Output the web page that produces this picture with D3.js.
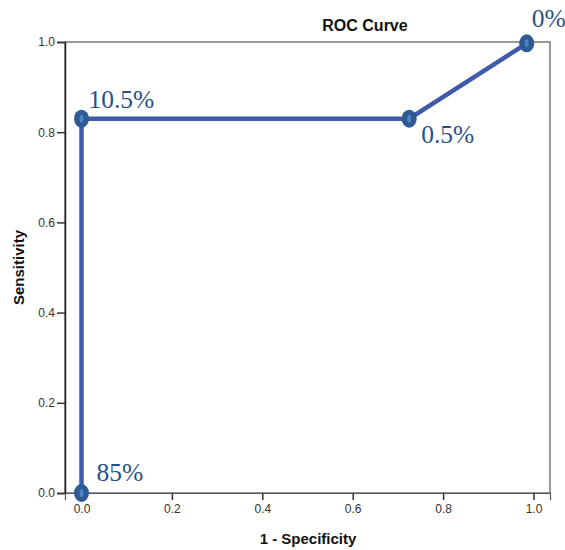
<!DOCTYPE html>
<html><head><meta charset="utf-8">
<script src="https://cdn.jsdelivr.net/npm/d3@7"></script>
<style>body{margin:0;background:#fff}svg{display:block}</style>
</head><body>
<svg id="c" width="565" height="550"></svg>
<script>
const fpr = [0, 0, 0.725, 0.985];
const tpr = [0, 0.83, 0.83, 0.997];
const pointLabels = ["85%", "10.5%", "0.5%", "0%"];
const xTicks = [0, 0.2, 0.4, 0.6, 0.8, 1.0];
const yTicks = [0, 0.2, 0.4, 0.6, 0.8, 1.0];

const svg = d3.select("#c");
const L = 65, R = 550, T = 42, B = 493;
const x = d3.scaleLinear().domain([-0.0365, 1.0365]).range([L, R]);
const y = d3.scaleLinear().domain([0, 1]).range([B, T]);

// frame
svg.append("rect").attr("x", L).attr("y", T).attr("width", R - L).attr("height", B - T)
  .attr("fill", "none").attr("stroke", "#555").attr("stroke-width", 1.2);

const yAxis = svg.append("g").attr("transform", `translate(${L},0)`)
  .call(d3.axisLeft(y).tickValues(yTicks).tickFormat(d3.format(".1f")).tickSize(8).tickPadding(2));
const xAxis = svg.append("g").attr("transform", `translate(0,${B})`)
  .call(d3.axisBottom(x).tickValues(xTicks).tickFormat(d3.format(".1f")).tickSize(7).tickPadding(4));
[yAxis, xAxis].forEach(a => {
  a.select(".domain").attr("stroke", "#222").attr("stroke-width", 1.5);
  a.selectAll(".tick line").attr("stroke", "#333").attr("stroke-width", 1.5);
  a.selectAll(".tick text").attr("font-family", "Liberation Sans, Arial, sans-serif")
    .attr("font-size", 12).attr("fill", "#333");
});
xAxis.select(".domain").attr("stroke", "#555").attr("stroke-width", 1.2);

// titles
svg.append("text").attr("x", 365).attr("y", 31).attr("text-anchor", "middle")
  .attr("font-family", "Liberation Sans, Arial, sans-serif").attr("font-weight", "bold")
  .attr("font-size", 16).attr("fill", "#111").text("ROC Curve");
svg.append("text").attr("x", 308).attr("y", 544).attr("text-anchor", "middle")
  .attr("font-family", "Liberation Sans, Arial, sans-serif").attr("font-weight", "bold")
  .attr("font-size", 15).attr("fill", "#111").text("1 - Specificity");
svg.append("text").attr("transform", `translate(24,${(T + B) / 2}) rotate(-90)`).attr("text-anchor", "middle")
  .attr("font-family", "Liberation Sans, Arial, sans-serif").attr("font-weight", "bold")
  .attr("font-size", 15).attr("fill", "#111").text("Sensitivity");

const pts = fpr.map((f, i) => ({ f, t: tpr[i], label: pointLabels[i] }));

svg.append("path").datum(pts)
  .attr("d", d3.line().x(d => x(d.f)).y(d => y(d.t)))
  .attr("fill", "none").attr("stroke", "#3e5aa8").attr("stroke-width", 4.5);

const mk = svg.append("g").selectAll("g").data(pts).join("g")
  .attr("transform", d => `translate(${x(d.f)},${y(d.t)})`);
mk.append("ellipse").attr("rx", 7.5).attr("ry", 9).attr("fill", "#2d5a92");
mk.append("ellipse").attr("rx", 2).attr("ry", 4).attr("fill", "#4f82c4");

// label offsets (dx, dy from point)
const offs = [[15, -12], [7, -11], [12, 24], [5, -16]];
svg.append("g").selectAll("text").data(pts).join("text")
  .attr("x", (d, i) => x(d.f) + offs[i][0])
  .attr("y", (d, i) => y(d.t) + offs[i][1])
  .attr("font-family", "Liberation Serif, Times New Roman, serif")
  .attr("font-size", 25.5).attr("fill", "#2a4f86").text(d => d.label);
</script>
</body></html>
